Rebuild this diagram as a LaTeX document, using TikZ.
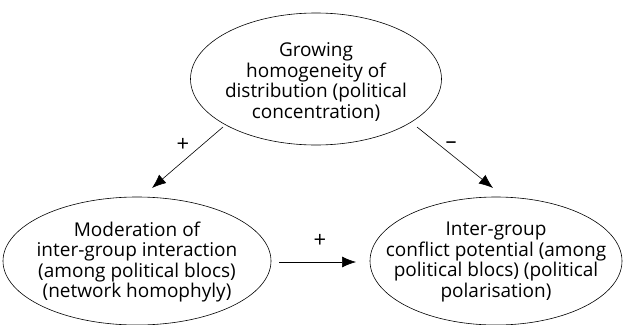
\documentclass[tikz,border=0pt]{standalone}
\usepackage{fontspec}
\setmainfont{Open Sans}
\usetikzlibrary{shapes.geometric,arrows.meta}
\begin{document}
\begin{tikzpicture}[x=1pt,y=-1pt,
  oval/.style={draw,ellipse,line width=0.6pt,inner sep=0pt},
  txt/.style={align=center,inner sep=0pt,font=\fontsize{19}{20.5}\selectfont},
  conn/.style={line width=0.6pt,-{Latex[length=14pt,width=11pt]}},
  sign/.style={font=\fontsize{22}{22}\selectfont}]
\useasboundingbox (0,0) rectangle (623,324);
\node[oval,minimum width=251pt,minimum height=132pt] (top) at (316,79) {};
\node[txt] (toptxt) at (316,82) {Growing\\homogeneity of\\distribution (political\\concentration)};
\node[oval,minimum width=268pt,minimum height=128pt] (left) at (137,261) {};
\node[txt] (lefttxt) at (137,262) {Moderation of\\inter-group interaction\\(among political blocs)\\(network homophyly)};
\node[oval,minimum width=252pt,minimum height=128pt] (right) at (496,261) {};
\node[txt] (righttxt) at (496,262) {Inter-group\\conflict potential (among\\political blocs) (political\\polarisation)};
\coordinate (a1) at (223,127);
\coordinate (a2) at (152,188);
\coordinate (b1) at (417,127);
\coordinate (b2) at (493,188);
\coordinate (c1) at (279,262);
\coordinate (c2) at (356,262);
\draw[conn] (a1) -- (a2);
\draw[conn] (b1) -- (b2);
\draw[conn] (c1) -- (c2);
\node[sign] (p1) at (183,145) {+};
\node[sign] (m1) at (451,145) {–};
\node[sign] (p2) at (320,241) {+};
\end{tikzpicture}
\end{document}
